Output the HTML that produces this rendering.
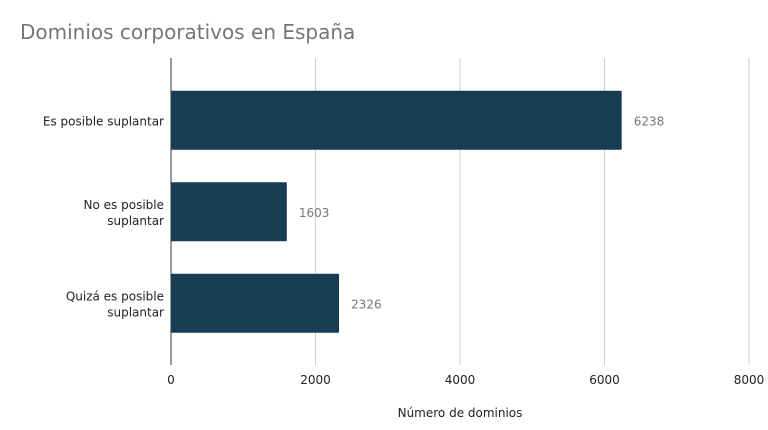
<!DOCTYPE html>
<html><head><meta charset="utf-8"><style>
html,body{margin:0;padding:0;background:#fff;}
svg{display:block;font-family:"DejaVu Sans","Liberation Sans",sans-serif;}
</style></head><body>
<svg id="chart" width="768" height="430">
<text x="20" y="39" font-size="20" fill="#757575">Dominios corporativos en España</text>
<g id="grid"></g><g id="bars"></g><g id="labels"></g>
<text x="460" y="417" font-size="12" text-anchor="middle" fill="#222">Número de dominios</text>
</svg>
<script>
const categories = [["Es posible suplantar"],["No es posible","suplantar"],["Quizá es posible","suplantar"]];
const values = [6238, 1603, 2326];
const ticks = [0, 2000, 4000, 6000, 8000];
const x0=171, x1=749, xmax=8000, yTop=58, yBot=365, bandTop=74.5, band=91.5;
const xs = v => x0 + v/xmax*(x1-x0);
const ns="http://www.w3.org/2000/svg";
const grid=document.getElementById('grid'), bars=document.getElementById('bars'), labels=document.getElementById('labels');
function mk(tag,attrs,parent){const e=document.createElementNS(ns,tag);for(const k in attrs)e.setAttribute(k,attrs[k]);parent.appendChild(e);return e;}
ticks.forEach(t=>{
  if(t>0){const l=mk('line',{x1:xs(t),x2:xs(t),y1:yTop,y2:yBot,stroke:'#cccccc','stroke-width':1},grid);
  
  }
  const tx=mk('text',{x:xs(t),y:384,'font-size':12,'text-anchor':'middle',fill:'#222'},grid);
  tx.textContent=t;
  
  
});
const ax=mk('line',{x1:x0,x2:x0,y1:yTop,y2:yBot,stroke:'#333','stroke-width':1},grid);


values.forEach((v,i)=>{
  const cy=bandTop+band*(i+0.5), h=59;
  const r=mk('rect',{x:x0,y:cy-h/2,width:xs(v)-x0,height:h,fill:'#163d52',rx:1},bars);
  
  
  const vl=mk('text',{x:xs(v)+12,y:cy+5,'font-size':12,fill:'#757575'},labels);
  vl.textContent=v;
  
  
  const lines=categories[i];
  lines.forEach((s,j)=>{
    const t=mk('text',{x:164,y:cy+5+(j-(lines.length-1)/2)*16,'font-size':12,'text-anchor':'end',fill:'#222'},labels);
    t.textContent=s;
    
    
  });
});
</script>
</body></html>
